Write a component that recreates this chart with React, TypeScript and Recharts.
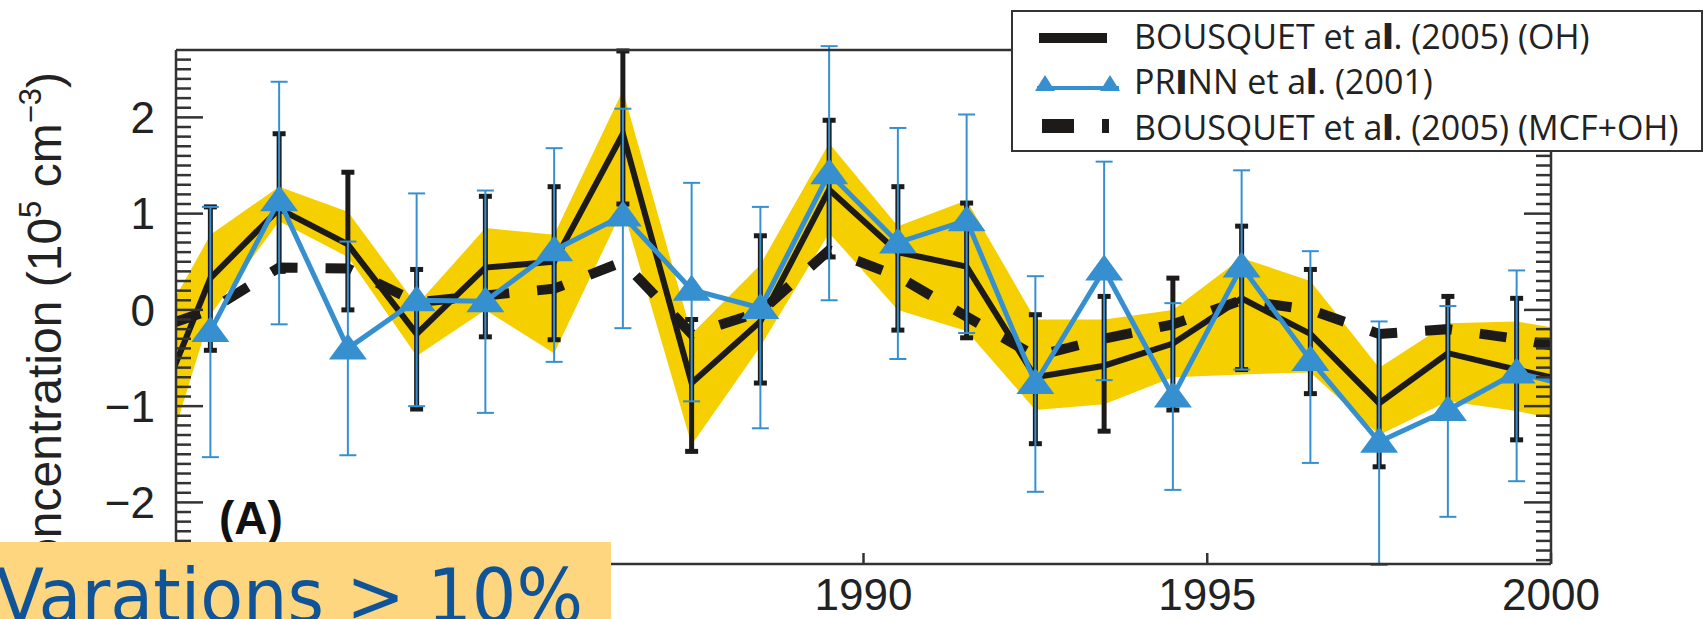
import React from 'react';
import { ComposedChart, Area, Line, XAxis, YAxis, ErrorBar, Legend } from 'recharts';

// mid-year points; first and last fall just outside the plotted window and get clipped
const years = [
  1979.5, 1980.5, 1981.5, 1982.5, 1983.5, 1984.5, 1985.5, 1986.5, 1987.5, 1988.5, 1989.5,
  1990.5, 1991.5, 1992.5, 1993.5, 1994.5, 1995.5, 1996.5, 1997.5, 1998.5, 1999.5, 2000.5,
];

// BOUSQUET et al. (2005), OH inversion
const ohValues = [-1.43, 0.33, 1.05, 0.68, -0.25, 0.44, 0.5, 1.83, -0.76, -0.12, 1.25, 0.6, 0.45, -0.7, -0.58, -0.35, 0.12, -0.25, -0.97, -0.45, -0.62, -0.78];
const ohLow = [null, -0.42, 0.4, 0.0, -1.03, -0.28, -0.31, 1.1, -1.47, -0.76, 0.55, -0.21, -0.29, -1.39, -1.26, -1.04, -0.62, -0.87, -1.63, -1.05, -1.35, null];
const ohHigh = [null, 1.07, 1.83, 1.43, 0.42, 1.18, 1.28, 2.69, -0.1, 0.77, 1.97, 1.28, 1.11, -0.05, 0.14, 0.33, 0.87, 0.42, -0.24, 0.14, 0.12, null];

// BOUSQUET et al. (2005), MCF+OH inversion
const mcfValues = [-0.25, 0.0, 0.44, 0.43, 0.08, 0.15, 0.22, 0.5, -0.25, -0.02, 0.62, 0.35, -0.07, -0.48, -0.3, -0.15, 0.1, 0.0, -0.25, -0.2, -0.3, -0.44];

// PRINN et al. (2001)
const prinnValues = [null, -0.22, 1.14, -0.4, 0.1, 0.09, 0.62, 0.98, 0.21, 0.02, 1.42, 0.7, 0.93, -0.76, 0.42, -0.9, 0.45, -0.52, -1.37, -1.04, -0.65, -0.83];
const prinnLow = [null, -1.53, -0.15, -1.51, -1.0, -1.07, -0.54, -0.19, -0.95, -1.23, 0.1, -0.51, -0.24, -1.89, -0.73, -1.87, -0.62, -1.59, -2.65, -2.15, -1.78, null];
const prinnHigh = [null, 1.07, 2.37, 0.71, 1.21, 1.24, 1.68, 2.09, 1.32, 1.07, 2.74, 1.89, 2.03, 0.35, 1.54, 0.07, 1.45, 0.61, -0.12, 0.04, 0.41, null];

// uncertainty envelope of the OH inversion
const bandLow = [-2.37, -0.05, 0.92, 0.55, -0.48, 0.0, -0.45, 1.05, -1.4, -0.38, 0.8, 0.0, -0.22, -1.04, -0.98, -0.7, -0.67, -0.65, -1.3, -0.95, -1.05, -1.2];
const bandHigh = [-0.5, 0.78, 1.28, 1.02, 0.05, 0.85, 0.78, 2.28, -0.25, 0.47, 1.73, 0.87, 1.14, -0.1, -0.1, 0.0, 0.54, 0.3, -0.6, -0.14, -0.12, -0.24];

const xTicks = [1980, 1985, 1990, 1995, 2000];
// every 0.1 between -2.6 and 2.6; whole numbers get a long tick and a label
const yTicks = Array.from({ length: 53 }, (_, i) => +(-2.6 + i * 0.1).toFixed(1));

const legendItems = [
  { label: 'BOUSQUET et al. (2005) (OH)', kind: 'oh' },
  { label: 'PRINN et al. (2001)', kind: 'prinn' },
  { label: 'BOUSQUET et al. (2005) (MCF+OH)', kind: 'mcf' },
];

const X_DOMAIN: [number, number] = [1980, 2000];
const Y_DOMAIN: [number, number] = [-2.64, 2.7];

const BLACK = '#1d1a1a';
const BLUE = '#3690d0';
const YELLOW = '#f6cf00';
const AXIS = '#333';
const FONT = "'Liberation Sans', Arial, Helvetica, sans-serif";
const TICK_W = 2.5;

const rows = years.map((year, i) => {
  const oh = ohValues[i];
  const pr = prinnValues[i];
  return {
    year,
    oh,
    ohErr: ohLow[i] == null ? null : [oh - (ohLow[i] as number), (ohHigh[i] as number) - oh],
    mcf: mcfValues[i],
    prinn: pr,
    prinnErr: prinnLow[i] == null || pr == null ? null : [pr - (prinnLow[i] as number), (prinnHigh[i] as number) - pr],
    band: [bandLow[i], bandHigh[i]],
  };
});

const minus = (v: number) => String(v).replace('-', '\u2212');
const isWhole = (v: number) => Math.abs(v - Math.round(v)) < 1e-6;

// inward ticks drawn from the axis position (tickSize/tickMargin are 0)
const LeftTick = (props: any) => {
  const { x, y, payload } = props;
  const v = payload.value;
  const major = isWhole(v);
  return (
    <g>
      <line x1={x} x2={x + (major ? 27 : 15)} y1={y} y2={y} stroke={AXIS} strokeWidth={TICK_W} />
      {major && (
        <text x={x - 21} y={y} dy="0.355em" textAnchor="end" fontSize={44} fontFamily={FONT} fill="#222">
          {minus(v)}
        </text>
      )}
    </g>
  );
};

const RightTick = (props: any) => {
  const { x, y, payload } = props;
  const major = isWhole(payload.value);
  return <line x1={x} x2={x - (major ? 27 : 15)} y1={y} y2={y} stroke={AXIS} strokeWidth={TICK_W} />;
};

const BottomTick = (props: any) => {
  const { x, y, payload } = props;
  return (
    <g>
      <line x1={x} x2={x} y1={y} y2={y - 11} stroke={AXIS} strokeWidth={TICK_W} />
      <text x={x} y={y + 14} dy="0.72em" textAnchor="middle" fontSize={44} fontFamily={FONT} fill="#222">
        {payload.value}
      </text>
    </g>
  );
};

const TopTick = (props: any) => {
  const { x, y } = props;
  return <line x1={x} x2={x} y1={y} y2={y + 11} stroke={AXIS} strokeWidth={TICK_W} />;
};

const PrinnMarker = (props: any) => {
  const { cx, cy, payload, index } = props;
  const inside = payload && payload.year >= X_DOMAIN[0] && payload.year <= X_DOMAIN[1];
  if (cx == null || cy == null || !inside || payload.prinn == null) return <g key={index} />;
  return (
    <polygon
      key={index}
      points={`${cx},${cy - 15} ${cx + 19},${cy + 11} ${cx - 19},${cy + 11}`}
      fill={BLUE}
    />
  );
};

// heavier strokes on the "l" of "al." and the "I" of "PRINN"
const inkLabel = (text: string) =>
  text.split(/(al\.|PRINN)/).map((part, i) => {
    if (part === 'al.')
      return (
        <React.Fragment key={i}>
          a<span style={{ fontWeight: 900 }}>l</span>.
        </React.Fragment>
      );
    if (part === 'PRINN')
      return (
        <React.Fragment key={i}>
          PR<span style={{ fontWeight: 900 }}>I</span>NN
        </React.Fragment>
      );
    return <React.Fragment key={i}>{part}</React.Fragment>;
  });

const LegendSample = ({ kind }: { kind: string }) => (
  <svg width={112} height={40} style={{ position: 'absolute', left: 0, top: 0 }}>
    {kind === 'oh' && <line x1={28} x2={96} y1={22} y2={22} stroke={BLACK} strokeWidth={10} />}
    {kind === 'prinn' && (
      <g>
        <line x1={26} x2={108} y1={27} y2={27} stroke={BLUE} strokeWidth={4} />
        <polygon points="34,14 44,30 24,30" fill={BLUE} />
        <polygon points="99,14 109,30 89,30" fill={BLUE} />
      </g>
    )}
    {kind === 'mcf' && (
      <line x1={31} x2={98} y1={19} y2={19} stroke={BLACK} strokeWidth={14} strokeDasharray="32 28" />
    )}
  </svg>
);

const rowCenters = [26, 71, 117];

const renderLegend = () => (
  <div
    style={{
      position: 'relative',
      width: 692,
      height: 142,
      boxSizing: 'border-box',
      border: `2px solid ${AXIS}`,
      background: '#fff',
      fontFamily: "'Open Sans', sans-serif",
      fontSize: 34,
      color: '#222',
    }}
  >
    {legendItems.map((item, i) => (
      <div key={item.kind} style={{ position: 'absolute', left: -2, top: rowCenters[i] - 22, height: 40, width: 690 }}>
        <LegendSample kind={item.kind} />
        <div style={{ position: 'absolute', left: 123, top: 0, lineHeight: '40px', whiteSpace: 'nowrap' }}>
          {inkLabel(item.label)}
        </div>
      </div>
    ))}
  </div>
);

export default function App() {
  const axisLine = { stroke: AXIS, strokeWidth: 2.5 };
  return (
    <div style={{ position: 'absolute', left: 0, top: 0, width: 1704, height: 619, background: '#fff', overflow: 'hidden' }}>
      <ComposedChart width={1704} height={619} data={rows} margin={{ top: 49, right: 152, bottom: 0, left: 0 }}>
        <XAxis
          xAxisId="x"
          dataKey="year"
          type="number"
          domain={X_DOMAIN}
          allowDataOverflow
          ticks={xTicks}
          interval={0}
          height={55}
          tickLine={false}
          tickSize={0}
          tickMargin={0}
          axisLine={axisLine}
          tick={BottomTick}
        />
        <XAxis
          xAxisId="xt"
          orientation="top"
          type="number"
          domain={X_DOMAIN}
          allowDataOverflow
          ticks={xTicks}
          interval={0}
          height={1}
          tickLine={false}
          tickSize={0}
          tickMargin={0}
          axisLine={axisLine}
          tick={TopTick}
        />
        <YAxis
          yAxisId="y"
          type="number"
          domain={Y_DOMAIN}
          allowDataOverflow
          ticks={yTicks}
          interval={0}
          width={176}
          tickLine={false}
          tickSize={0}
          tickMargin={0}
          axisLine={axisLine}
          tick={LeftTick}
        />
        <YAxis
          yAxisId="yr"
          orientation="right"
          type="number"
          domain={Y_DOMAIN}
          allowDataOverflow
          ticks={yTicks}
          interval={0}
          width={1}
          tickLine={false}
          tickSize={0}
          tickMargin={0}
          axisLine={axisLine}
          tick={RightTick}
        />

        <Area
          xAxisId="x"
          yAxisId="y"
          dataKey="band"
          type="linear"
          stroke="none"
          fill={YELLOW}
          fillOpacity={1}
          activeDot={false}
          isAnimationActive={false}
        />
        <Line
          xAxisId="x"
          yAxisId="y"
          dataKey="mcf"
          type="linear"
          stroke={BLACK}
          strokeWidth={10}
          strokeDasharray="27 28"
          strokeDashoffset={20}
          dot={false}
          activeDot={false}
          isAnimationActive={false}
        />
        <Line
          xAxisId="x"
          yAxisId="y"
          dataKey="oh"
          type="linear"
          stroke={BLACK}
          strokeWidth={6}
          dot={false}
          activeDot={false}
          isAnimationActive={false}
        >
          <ErrorBar dataKey="ohErr" direction="y" width={6.5} strokeWidth={5} stroke={BLACK} />
        </Line>
        <Line
          xAxisId="x"
          yAxisId="y"
          dataKey="prinn"
          type="linear"
          stroke={BLUE}
          strokeWidth={5}
          dot={PrinnMarker}
          activeDot={false}
          isAnimationActive={false}
        >
          <ErrorBar dataKey="prinnErr" direction="y" width={8.5} strokeWidth={2} stroke={BLUE} />
        </Line>

        <Legend
          layout="vertical"
          align="center"
          verticalAlign="middle"
          width={692}
          height={142}
          wrapperStyle={{ left: 1011, top: 10, width: 692, height: 142 }}
          content={renderLegend}
        />
      </ComposedChart>

      <svg width={1704} height={619} style={{ position: 'absolute', left: 0, top: 0, pointerEvents: 'none' }}>
        <text
          x={61}
          y={72}
          transform="rotate(-90 61 72)"
          textAnchor="end"
          fontSize={48}
          fontFamily={FONT}
          fill="#222"
        >
          Concentration (10
          <tspan fontSize={31} dy={-20}>5</tspan>
          <tspan dy={20}> cm</tspan>
          <tspan fontSize={31} dy={-20}>{'\u22123'}</tspan>
          <tspan dy={20}>)</tspan>
        </text>
        <text x={219} y={534} fontSize={46} fontWeight="bold" fontFamily={FONT} fill="#111">
          (A)
        </text>
        <rect x={0} y={542} width={611} height={77} fill="#fdd67f" />
        <text
          x={-4}
          y={622}
          fontSize={74}
          textLength={587}
          lengthAdjust="spacingAndGlyphs"
          fontFamily="'DejaVu Sans', sans-serif"
          fill="#0f5499"
        >
          Varations &gt; 10%
        </text>
      </svg>
    </div>
  );
}
